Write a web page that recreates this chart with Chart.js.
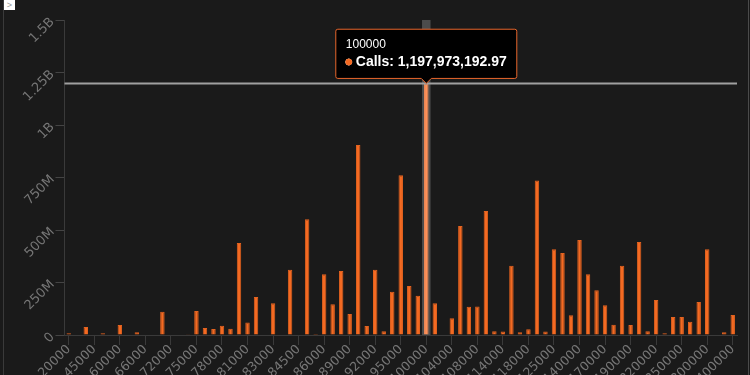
<!DOCTYPE html>
<html>
<head>
<meta charset="utf-8">
<script src="https://cdn.jsdelivr.net/npm/chart.js@4.4.1/dist/chart.umd.min.js"></script>
<style>
  html, body { margin: 0; padding: 0; background: #1a1a1a; }
  .wrap { position: relative; width: 750px; height: 375px; overflow: hidden; }
  .wrap canvas { position: absolute; left: 0; top: 0; }
  .edge-left { position: absolute; left: 3px; top: 0; width: 1px; height: 375px; background: #3a3a3a; }
  .edge-right { position: absolute; left: 748px; top: 0; width: 1px; height: 375px; background: #4a4a4a; }
  .toggle { position: absolute; left: 4px; top: 0; width: 11px; height: 10px; background: #fff; color: #999;
            font: 9px "Liberation Sans", Arial, sans-serif; line-height: 10px; text-align: center; }
</style>
</head>
<body>
<div class="wrap">
  <div class="edge-left"></div>
  <div class="edge-right"></div>
  <div class="toggle">&gt;</div>
  <canvas id="myChart" width="750" height="375"></canvas>
</div>
<script>
const strikes = [
  "20000", "30000", "40000", "45000", "50000", "55000", "60000", "62000", "64000", "66000",
  "68000", "70000", "72000", "73000", "74000", "75000", "76000", "77000", "78000", "79000",
  "80000", "81000", "81500", "82000", "83000", "83500", "84000", "84500", "85000", "85500",
  "86000", "87000", "88000", "89000", "90000", "91000", "92000", "93000", "94000", "95000",
  "96000", "98000", "100000", "102000", "103000", "104000", "105000", "106000", "108000", "110000",
  "112000", "114000", "115000", "116000", "118000", "120000", "122000", "125000", "130000", "135000",
  "140000", "150000", "160000", "170000", "175000", "180000", "190000", "200000", "210000", "220000",
  "230000", "240000", "250000", "260000", "280000", "300000", "320000", "350000", "400000"
];

// call open interest per strike (USD)
const calls = [
  8.1e6, 2.6e6, 38.4e6, 0, 8.3e6, 2.9e6, 48.2e6, 0, 13.1e6, 0,
  0, 110.5e6, 0, 0, 3.1e6, 114.2e6, 33.4e6, 29.1e6, 43.6e6, 29.3e6,
  438.2e6, 59.4e6, 181.3e6, 0, 151.2e6, 0, 310.4e6, 0, 551.3e6, 5.2e6,
  289.1e6, 146.3e6, 305.2e6, 100.4e6, 905.1e6, 43.2e6, 310.2e6, 17.4e6, 206.3e6, 760.2e6,
  233.1e6, 186.4e6, 1197973192.97, 151.3e6, 2.8e6, 79.2e6, 519.4e6, 135.1e6, 135.3e6, 590.2e6,
  18.3e6, 17.2e6, 330.1e6, 13.2e6, 27.4e6, 735.3e6, 17.1e6, 408.2e6, 390.4e6, 94.1e6,
  452.3e6, 289.2e6, 213.1e6, 141.4e6, 48.3e6, 330.2e6, 48.1e6, 443.2e6, 17.3e6, 167.2e6,
  8.2e6, 86.1e6, 86.3e6, 63.2e6, 157.1e6, 408.3e6, 2.7e6, 13.4e6, 95.2e6
];

const yTicks = [0, 250e6, 500e6, 750e6, 1e9, 1.25e9, 1.5e9];

const hoveredStrike = "100000";

const orange = "#f46a22";
const orangeEdge = "#e3621f";
const orangeHover = "#ff9058";
const font = "'Liberation Sans', Helvetica, Arial, sans-serif";
const tickFont = "'DejaVu Sans', 'Lucida Grande', sans-serif";

function shortNum(v) {
  if (v === 0) return "0";
  if (v >= 1e9) return (v / 1e9) + "B";
  return (v / 1e6) + "M";
}

// highlight band + horizontal crosshair on the active bar
const crosshair = {
  id: "crosshair",
  beforeDatasetsDraw(chart) {
    const active = chart.getActiveElements();
    if (!active.length) return;
    const { ctx, chartArea, scales } = chart;
    const x = scales.x.getPixelForValue(active[0].index);
    const w = chartArea.width / strikes.length;
    ctx.save();
    ctx.fillStyle = "rgba(255,255,255,0.22)";
    ctx.fillRect(x - w / 2, chartArea.top, w, chartArea.bottom - chartArea.top);
    ctx.restore();
  },
  afterDatasetsDraw(chart) {
    const active = chart.getActiveElements();
    if (!active.length) return;
    const { ctx, chartArea, scales } = chart;
    const y = scales.y.getPixelForValue(calls[active[0].index]);
    ctx.save();
    ctx.strokeStyle = "#a0a0a0";
    ctx.lineWidth = 2;
    ctx.beginPath();
    ctx.moveTo(chartArea.left, y);
    ctx.lineTo(chartArea.right, y);
    ctx.stroke();
    ctx.restore();
  }
};

const chart = new Chart(document.getElementById("myChart"), {
  type: "bar",
  data: {
    labels: strikes,
    datasets: [
      {
        label: "Calls",
        data: calls,
        backgroundColor: orange,
        borderColor: orangeEdge,
        borderWidth: 1,
        hoverBackgroundColor: orangeHover,
        hoverBorderColor: orangeHover,
        barPercentage: 0.95,
        categoryPercentage: 0.55
      }
    ]
  },
  options: {
    responsive: false,
    animation: false,
    events: [],
    layout: {
      padding: { top: 20, right: 13, bottom: 0, left: 1 }
    },
    scales: {
      x: {
        grid: {
          offset: false,
          drawOnChartArea: false,
          color: "#3a3a3a",
          tickLength: 10
        },
        border: { color: "#3a3a3a" },
        ticks: {
          autoSkip: false,
          minRotation: 45,
          maxRotation: 45,
          padding: -3,
          color: "#767676",
          font: { family: tickFont, size: 12.5 },
          callback: function (value, index) {
            return index % 3 === 0 ? this.getLabelForValue(value) : null;
          }
        },
        afterFit: (scale) => { scale.height = 40; }
      },
      y: {
        min: 0,
        max: 1.5e9,
        afterBuildTicks: (scale) => { scale.ticks = yTicks.map(v => ({ value: v })); },
        grid: {
          drawOnChartArea: false,
          color: "#444",
          tickLength: 9
        },
        border: { color: "#3a3a3a" },
        ticks: {
          minRotation: 45,
          maxRotation: 45,
          padding: 3,
          color: "#767676",
          font: { family: tickFont, size: 13 },
          callback: (v) => shortNum(v)
        },
        afterFit: (scale) => { scale.width = 63.5; }
      }
    },
    plugins: {
      legend: { display: false },
      tooltip: {
        xAlign: "center",
        yAlign: "bottom",
        backgroundColor: "#000",
        borderColor: "#e8662c",
        borderWidth: 1,
        cornerRadius: 2,
        caretSize: 5,
        caretPadding: 0,
        padding: { top: 8, bottom: 8, left: 10, right: 10 },
        titleColor: "#fff",
        titleFont: { family: font, size: 12, weight: "normal" },
        titleMarginBottom: 2,
        bodyColor: "#fff",
        bodyFont: { family: font, size: 14, weight: "bold" },
        displayColors: true,
        usePointStyle: true,
        boxWidth: 6,
        boxHeight: 6,
        boxPadding: 2,
        callbacks: {
          label: (ctx) => "Calls: " + ctx.parsed.y.toLocaleString("en-US", { minimumFractionDigits: 2, maximumFractionDigits: 2 }),
          labelColor: () => ({ borderColor: orange, backgroundColor: orange }),
          labelPointStyle: () => ({ pointStyle: "circle", rotation: 0 })
        }
      }
    }
  },
  plugins: [crosshair]
});

const active = [{ datasetIndex: 0, index: strikes.indexOf(hoveredStrike) }];
chart.setActiveElements(active);
chart.tooltip.setActiveElements(active, { x: 0, y: 0 });
chart.update();
</script>
</body>
</html>
